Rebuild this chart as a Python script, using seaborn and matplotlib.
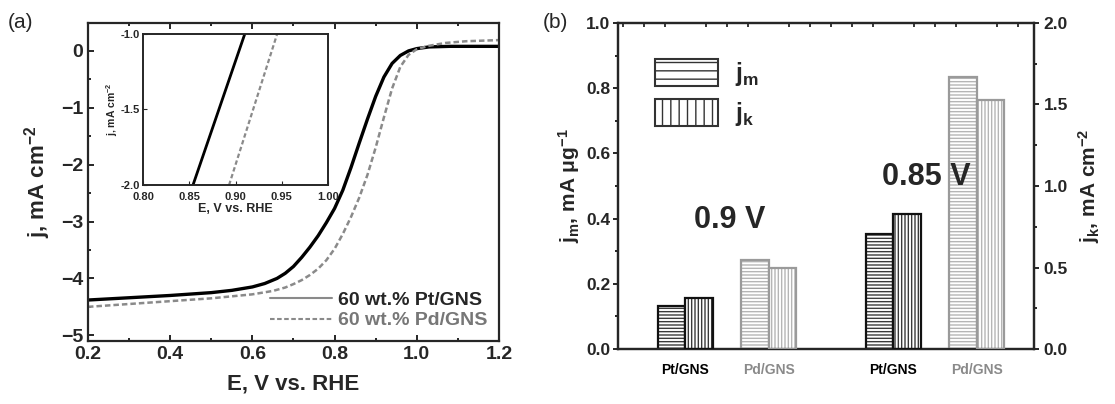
import numpy as np
import pandas as pd
import matplotlib
matplotlib.use("Agg")
import matplotlib.pyplot as plt
import seaborn as sns
from matplotlib.ticker import MultipleLocator
from matplotlib.patches import Patch
from matplotlib.lines import Line2D

# ---- panel (a): polarisation curves ----
E_pt = [0.20, 0.30, 0.40, 0.50, 0.55, 0.60, 0.63, 0.66, 0.68, 0.70, 0.72, 0.74, 0.76,
        0.78, 0.80, 0.82, 0.84, 0.86, 0.88, 0.90, 0.92, 0.94, 0.96, 0.98, 1.00, 1.03,
        1.08, 1.20]
j_pt = [-4.38, -4.34, -4.30, -4.25, -4.21, -4.15, -4.09, -4.00, -3.91, -3.79, -3.63, -3.45,
        -3.25, -3.02, -2.77, -2.45, -2.05, -1.62, -1.20, -0.80, -0.46, -0.22, -0.08, 0.00,
        0.04, 0.07, 0.08, 0.08]
E_pd = [0.20, 0.30, 0.40, 0.50, 0.60, 0.65, 0.68, 0.70, 0.72, 0.74, 0.76, 0.78, 0.80,
        0.82, 0.84, 0.86, 0.88, 0.90, 0.92, 0.94, 0.96, 0.98, 1.00, 1.03, 1.07, 1.12, 1.20]
j_pd = [-4.50, -4.45, -4.40, -4.35, -4.28, -4.22, -4.16, -4.10, -4.03, -3.94, -3.83, -3.68,
        -3.48, -3.22, -2.92, -2.58, -2.18, -1.70, -1.17, -0.66, -0.28, -0.07, 0.03, 0.09,
        0.14, 0.17, 0.19]
# inset (zoomed part of the same curves)
inset_E_pt = [0.854, 0.910]
inset_j_pt = [-2.0, -1.0]
inset_E_pd = [0.893, 0.945]
inset_j_pd = [-2.0, -1.0]
legend_a = ["60 wt.% Pt/GNS", "60 wt.% Pd/GNS"]

# ---- panel (b): activities ----
catalysts = ["Pt/GNS", "Pd/GNS", "Pt/GNS", "Pd/GNS"]
potentials = ["0.9 V", "0.85 V"]
jm_vals = [0.131, 0.272, 0.353, 0.833]   # mA/ug, left axis
jk_vals = [0.31, 0.50, 0.83, 1.53]       # mA/cm2, right axis

sns.set_style("ticks")
plt.rcParams['font.family'] = ['Liberation Sans', 'DejaVu Sans']
plt.rcParams['mathtext.fontset'] = 'custom'
plt.rcParams['mathtext.bf'] = 'Liberation Sans:bold'
plt.rcParams['mathtext.rm'] = 'Liberation Sans:bold'
plt.rcParams['mathtext.default'] = 'bf'
plt.rcParams['hatch.linewidth'] = 1.0
plt.rcParams['axes.linewidth'] = 1.6

fig = plt.figure(figsize=(11.15, 4.04), dpi=100)

# ================= (a) =================
ax = fig.add_axes([0.0789, 0.156, 0.3686, 0.787])
df_pt = pd.DataFrame({"E": E_pt, "j": j_pt})
df_pd = pd.DataFrame({"E": E_pd, "j": j_pd})
sns.lineplot(data=df_pt, x="E", y="j", ax=ax, color="black", lw=2.4, sort=False)
sns.lineplot(data=df_pd, x="E", y="j", ax=ax, color="#8a8a8a", lw=1.8, ls=(0, (2.2, 1.2)), sort=False)
ax.set_xlim(0.2, 1.2)
ax.set_ylim(-5.1, 0.49)
ax.xaxis.set_minor_locator(MultipleLocator(0.1))
ax.yaxis.set_major_locator(MultipleLocator(1))
ax.yaxis.set_minor_locator(MultipleLocator(0.5))
ax.set_xticks([0.2, 0.4, 0.6, 0.8, 1.0, 1.2])
ax.set_xticklabels(["0.2", "0.4", "0.6", "0.8", "1.0", "1.2"])
ax.tick_params(which='both', direction='in', top=True, right=False, labelsize=14, width=1.4)
ax.tick_params(which='major', length=4)
ax.tick_params(which='minor', length=2.5)
for lab in ax.get_xticklabels() + ax.get_yticklabels():
    lab.set_fontweight('bold')
ax.set_xlabel("E, V vs. RHE", fontsize=16, fontweight='bold', labelpad=8)
ax.set_ylabel(r"j, mA cm$^{-2}$", fontsize=16, fontweight='bold', labelpad=6)

handles = [Line2D([], [], color="#8a8a8a", lw=1.5),
           Line2D([], [], color="#8a8a8a", lw=1.5, ls=(0, (2.2, 1.2)))]
leg = ax.legend(handles, legend_a, loc='lower right', frameon=False,
                handlelength=3.2, handletextpad=0.3, labelspacing=0.15,
                borderaxespad=0.2, prop={'weight': 'bold', 'size': 14})
leg.get_texts()[1].set_color("#777777")

# inset
axi = fig.add_axes([0.1283, 0.542, 0.1659, 0.374])
sns.lineplot(x=inset_E_pt, y=inset_j_pt, ax=axi, color="black", lw=2.0)
sns.lineplot(x=inset_E_pd, y=inset_j_pd, ax=axi, color="#8a8a8a", lw=1.6, ls=(0, (2, 1.2)))
axi.set_xlim(0.80, 1.00)
axi.set_ylim(-2.0, -1.0)
axi.set_xticks([0.80, 0.85, 0.90, 0.95, 1.00])
axi.set_xticklabels(["0.80", "0.85", "0.90", "0.95", "1.00"])
axi.set_yticks([-2.0, -1.5, -1.0])
axi.set_yticklabels(["-2.0", "-1.5", "-1.0"])
axi.tick_params(direction='in', labelsize=8, length=3)
axi.tick_params(axis='x', pad=5)
axi.tick_params(axis='y', pad=2)
for lab in axi.get_xticklabels() + axi.get_yticklabels():
    lab.set_fontweight('bold')
axi.set_xlabel("E, V vs. RHE", fontsize=9, fontweight='bold', labelpad=1)
axi.set_ylabel(r"j, mA cm$^{-2}$", fontsize=7.5, fontweight='bold', labelpad=1)
for s in axi.spines.values():
    s.set_linewidth(1.4)

fig.text(0.007, 0.93, "(a)", fontsize=15)

# ================= (b) =================
bx = fig.add_axes([0.5543, 0.1361, 0.3731, 0.807])
bx2 = bx.twinx()
pos = np.array([0.0, 1.0, 2.5, 3.5])
w = 0.33
hatch_col = ["#3a3a3a", "#b5b5b5", "#3a3a3a", "#b5b5b5"]
edge_col = ["#111111", "#9a9a9a", "#111111", "#9a9a9a"]
for i in range(len(catalysts)):
    bx.bar(pos[i] - w / 2, jm_vals[i], width=w, facecolor="white", edgecolor=hatch_col[i],
           hatch="-----", lw=0, zorder=2)
    bx.bar(pos[i] - w / 2, jm_vals[i], width=w, fill=False, edgecolor=edge_col[i], lw=1.6, zorder=3)
    bx2.bar(pos[i] + w / 2, jk_vals[i], width=w, facecolor="white", edgecolor=hatch_col[i],
            hatch="|||||", lw=0, zorder=2)
    bx2.bar(pos[i] + w / 2, jk_vals[i], width=w, fill=False, edgecolor=edge_col[i], lw=1.6, zorder=3)

bx.set_xlim(-0.81, 4.19)
bx.set_ylim(0, 1.0)
bx2.set_ylim(0, 2.0)
bx.yaxis.set_major_locator(MultipleLocator(0.2))
bx.yaxis.set_minor_locator(MultipleLocator(0.1))
bx2.yaxis.set_major_locator(MultipleLocator(0.5))
bx2.yaxis.set_minor_locator(MultipleLocator(0.25))
bx.set_xticks(pos)
bx.set_xticklabels(catalysts)
bx.xaxis.set_minor_locator(MultipleLocator(0.25))
bx.tick_params(axis='x', which='major', length=0, pad=10, labelsize=10)
bx.tick_params(axis='x', which='minor', bottom=False, top=True, direction='in', length=3, width=1.3)
bx.tick_params(axis='y', which='both', direction='out', labelsize=12.5, width=1.4, pad=2)
bx2.tick_params(axis='y', which='both', direction='out', labelsize=12.5, width=1.4)
bx.tick_params(axis='y', which='minor', length=2)
bx2.tick_params(axis='y', which='minor', length=2)
for k, lab in enumerate(bx.get_xticklabels()):
    lab.set_fontweight('bold')
    lab.set_color("black" if catalysts[k] == "Pt/GNS" else "#8a8a8a")
for lab in bx.get_yticklabels() + bx2.get_yticklabels():
    lab.set_fontweight('bold')
bx.set_ylabel(r"j$_m$, mA μg$^{-1}$", fontsize=15, fontweight='bold', labelpad=3)
bx2.set_ylabel(r"j$_k$, mA cm$^{-2}$", fontsize=15, fontweight='bold', labelpad=6)

bx.text(0.536, 0.396, potentials[0], fontsize=22, fontweight='bold', ha='center', va='center')
bx.text(2.89, 0.527, potentials[1], fontsize=22, fontweight='bold', ha='center', va='center')

leg_handles = [Patch(facecolor="white", edgecolor="#333333", hatch="--", lw=1.5),
               Patch(facecolor="white", edgecolor="#333333", hatch="||", lw=1.5)]
leg_b = bx.legend(leg_handles, [r"j$_m$", r"j$_k$"], loc='upper left', frameon=False,
                  bbox_to_anchor=(0.035, 0.96), handlelength=2.5, handleheight=1.3,
                  labelspacing=0.45, handletextpad=0.7,
                  prop={'weight': 'bold', 'size': 18})

fig.text(0.487, 0.93, "(b)", fontsize=15)

plt.savefig("out.png", dpi=100)
